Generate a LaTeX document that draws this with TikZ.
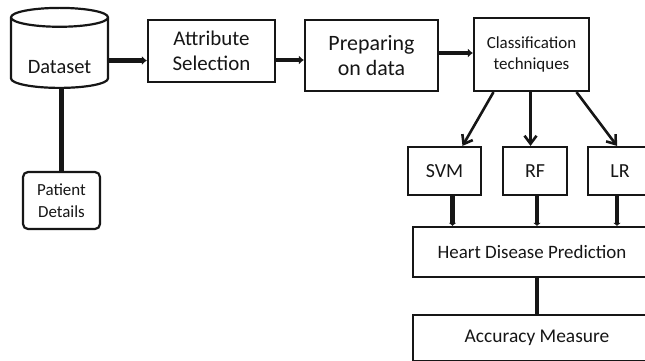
\documentclass[tikz,border=0pt]{standalone}
\usepackage{fontspec}
\setmainfont{Carlito}
\usepackage{tikz}
\usepackage{xcolor}
\usetikzlibrary{arrows.meta,positioning,calc,shapes.geometric}
\definecolor{cInk}{HTML}{161616}
\tikzset{
  >=Stealth,
  box/.style   ={draw=cInk,line width=2.2bp,fill=white,align=center,
                 inner sep=2bp,text=cInk},
  dbox/.style  ={box,cylinder,shape border rotate=90,aspect=0.28},
  pbox/.style  ={box,rounded corners=5bp},
  big/.style   ={font=\fontsize{21}{25}\selectfont},
  med/.style   ={font=\fontsize{20}{24}\selectfont},
  mid/.style   ={font=\fontsize{17}{22}\selectfont},
  sml/.style   ={font=\fontsize{17}{22}\selectfont},
  arb/.style   ={-{Latex[length=5bp,width=9bp]},line width=4.5bp,cInk},
  ar/.style    ={-{Straight Barb[length=8bp,width=12bp]},line width=2.6bp,cInk},
  drop/.style  ={-{Latex[length=3bp,width=8bp]},line width=4.5bp,cInk},
}
\begin{document}
\begin{tikzpicture}[x=1bp,y=-1bp]
\useasboundingbox (0,0) rectangle (645,360);
% top row
\node[dbox,font=\fontsize{20.5}{24}\selectfont,minimum width=97bp,minimum height=80bp]
  (dataset) at (59.5,54.5) {\raisebox{-19bp}[0pt][0pt]{Dataset}};
\node[box,big,minimum width=127bp,minimum height=62bp] (attr) at (211.5,51) {Attribute\\Selection};
\node[box,font=\fontsize{22}{26}\selectfont,minimum width=133bp,minimum height=71bp]
  (prep) at (371.5,55.5) {Preparing\\on data};
\node[box,mid,minimum width=115bp,minimum height=73bp] (cls) at (531.5,54.5) {Classification\\techniques};
\node[pbox,sml,minimum width=77bp,minimum height=57bp] (patient) at (61.5,200.5) {Patient\\Details};
% classifiers
\node[box,med,minimum width=73bp,minimum height=48bp] (svm) at (444.5,171) {SVM};
\node[box,med,minimum width=64bp,minimum height=48bp] (rf) at (535,171) {RF};
\node[box,med,minimum width=64bp,minimum height=48bp] (lr) at (620,171) {LR};
% output stages
\node[box,font=\fontsize{19}{23}\selectfont,minimum width=238bp,minimum height=50bp]
  (heart) at (532,252) {Heart Disease Prediction};
\node[box,font=\fontsize{19.5}{23}\selectfont,minimum width=248bp,minimum height=46bp]
  (acc) at (537,338) {Accuracy Measure};

\draw[arb] ([yshift=-6bp]dataset.east) -- ([yshift=-6bp]dataset.east -| attr.west);
\draw[arb] ([yshift=-9bp]attr.east) -- ([yshift=-9bp]attr.east -| prep.west);
\draw[arb] ([yshift=2.5bp]prep.east) -- ([yshift=2.5bp]prep.east -| cls.west);
\draw[line width=4.5bp,cInk] (patient.north |- dataset.south) -- (patient.north);
\draw[ar] ([xshift=-38bp]cls.south) -- ([xshift=18bp]svm.north);
\draw[ar] ([xshift=-1bp]cls.south) -- ([xshift=-1bp]cls.south |- rf.north);
\draw[ar] ([xshift=45bp]cls.south) -- ([xshift=-3bp]lr.north);
\foreach \c/\dx in {svm/8,rf/2,lr/-3}
  \draw[drop] ([xshift=\dx bp]\c.south) -- ([xshift=\dx bp]\c.south |- heart.north);
\draw[line width=4.5bp,cInk] (acc.north |- heart.south) -- (acc.north);
\end{tikzpicture}
\end{document}
